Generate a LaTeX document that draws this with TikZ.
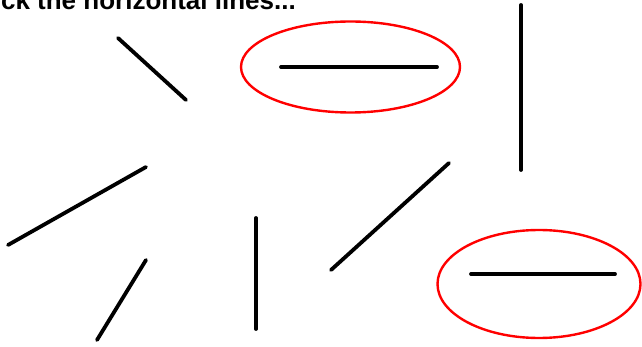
\documentclass[tikz,border=0pt]{standalone}
\usepackage{fontspec}
\setmainfont{Liberation Sans}
\begin{document}
\begin{tikzpicture}[x=1pt,y=-1pt,
  stroke/.style={line width=3.8pt,line cap=round,black},
  circled/.style={draw=red,line width=2.4pt}]
\useasboundingbox (0,0) rectangle (642,347);
\node[anchor=base east,inner sep=0pt,font=\fontsize{26}{28}\selectfont\bfseries] (title) at (296,10) {Pick the horizontal lines...};
% lines
\coordinate (a1) at (118,38);  \coordinate (a2) at (186,100);
\coordinate (b1) at (281,67);  \coordinate (b2) at (437,67);
\coordinate (c1) at (521,5);   \coordinate (c2) at (521,170);
\coordinate (d1) at (8,245);   \coordinate (d2) at (146,167);
\coordinate (e1) at (331,270); \coordinate (e2) at (449,163);
\coordinate (f1) at (256,218); \coordinate (f2) at (256,329);
\coordinate (g1) at (97,340);  \coordinate (g2) at (146,260);
\coordinate (h1) at (471,274); \coordinate (h2) at (615,274);
\draw[stroke] (a1) -- (a2);
\draw[stroke] (b1) -- (b2);
\draw[stroke] (c1) -- (c2);
\draw[stroke] (d1) -- (d2);
\draw[stroke] (e1) -- (e2);
\draw[stroke] (f1) -- (f2);
\draw[stroke] (g1) -- (g2);
\draw[stroke] (h1) -- (h2);
% circles
\coordinate (o1) at (350.5,67);
\coordinate (o2) at (539,284);
\draw[circled] (o1) ellipse [x radius=109.5, y radius=45.5];
\draw[circled] (o2) ellipse [x radius=101.5, y radius=54];
\end{tikzpicture}
\end{document}
